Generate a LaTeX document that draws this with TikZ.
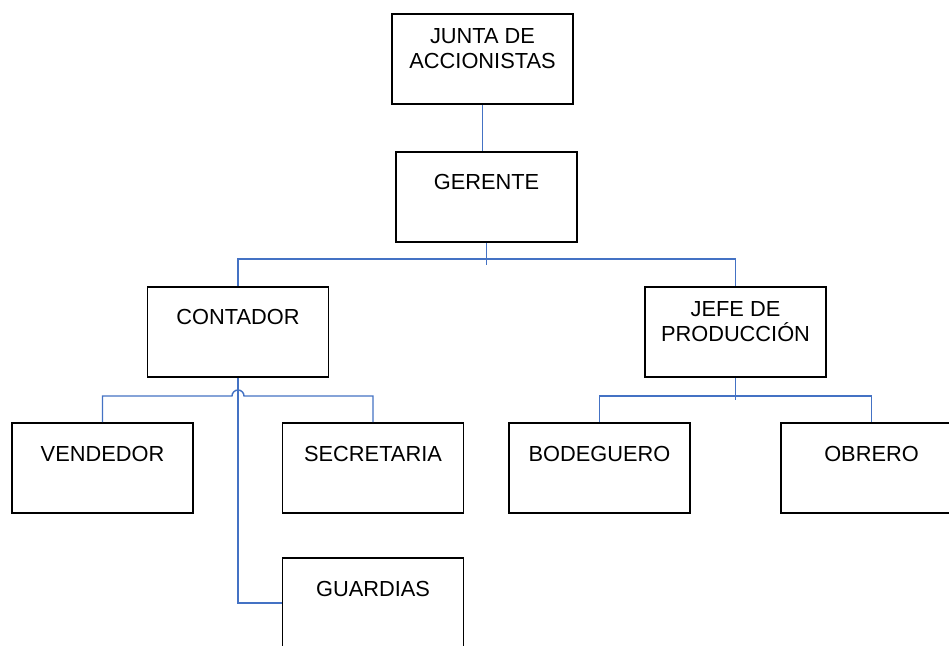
\documentclass[tikz,border=0pt]{standalone}
\usepackage{fontspec}
\setmainfont{Liberation Sans}
\definecolor{conn}{HTML}{4472C4}
\tikzset{
  box/.style={draw=black, line width=1.6pt, minimum width=181pt, minimum height=90pt, inner sep=0pt},
  lbl/.style={anchor=north, inner sep=0pt, align=center, font=\fontsize{21.8}{25}\selectfont},
  link/.style={draw=conn, line width=1.4pt}
}
\begin{document}
\begin{tikzpicture}[x=1pt,y=-1pt]
\useasboundingbox (0,0) rectangle (949,645);
\clip (0,0) rectangle (949,645);
\fill[white] (0,0) rectangle (949,645);
% boxes
\node[box] (junta) at (482.5,59) {};
\node[box] (ger) at (486.5,197) {};
\node[box] (cont) at (238,332) {};
\node[box] (jefe) at (735.5,332) {};
\node[box] (vend) at (102.5,468) {};
\node[box] (sec) at (373,468) {};
\node[box] (bod) at (599.5,468) {};
\node[box] (obr) at (871.5,468) {};
\node[box] (guard) at (373,603) {};
% labels
\node[lbl] (juntat) at ([yshift=-15pt]junta.north) {JUNTA DE\\ACCIONISTAS};
\node[lbl] (gert) at ([yshift=-23pt]ger.north) {GERENTE};
\node[lbl] (contt) at ([yshift=-22.5pt]cont.north) {CONTADOR};
\node[lbl] (jefet) at ([yshift=-15pt]jefe.north) {JEFE DE\\PRODUCCIÓN};
\node[lbl] (vendt) at ([yshift=-23.5pt]vend.north) {VENDEDOR};
\node[lbl] (sect) at ([yshift=-23.5pt]sec.north) {SECRETARIA};
\node[lbl] (bodt) at ([yshift=-23.5pt]bod.north) {BODEGUERO};
\node[lbl] (obrt) at ([yshift=-23.5pt]obr.north) {OBRERO};
\node[lbl] (guardt) at ([yshift=-23.5pt]guard.north) {GUARDIAS};
% coordinates
\coordinate (gstem) at (ger.south |- 0,265);
\coordinate (hl1) at (cont.north |- 0,259);
\coordinate (hr1) at (jefe.north |- 0,259);
\coordinate (cl) at (vend.north |- 0,396);
\coordinate (cr) at (sec.north |- 0,396);
\coordinate (hopa) at (232,396);
\coordinate (jstem) at (jefe.south |- 0,400);
\coordinate (jl) at (bod.north |- 0,396);
\coordinate (jr) at (obr.north |- 0,396);
% connectors
\draw[link] (junta.south) -- (junta.south |- ger.north);
\draw[link] (ger.south) -- (gstem);
\draw[link] (cont.north) -- (hl1) -- (hr1) -- (jefe.north);
\draw[link] (cont.south) |- (guard.west);
\draw[link] (vend.north) -- (cl) -- (hopa) arc[start angle=180, end angle=0, radius=6pt] -- (cr) -- (sec.north);
\draw[link] (jefe.south) -- (jstem);
\draw[link] (bod.north) -- (jl) -- (jr) -- (obr.north);
\end{tikzpicture}
\end{document}
